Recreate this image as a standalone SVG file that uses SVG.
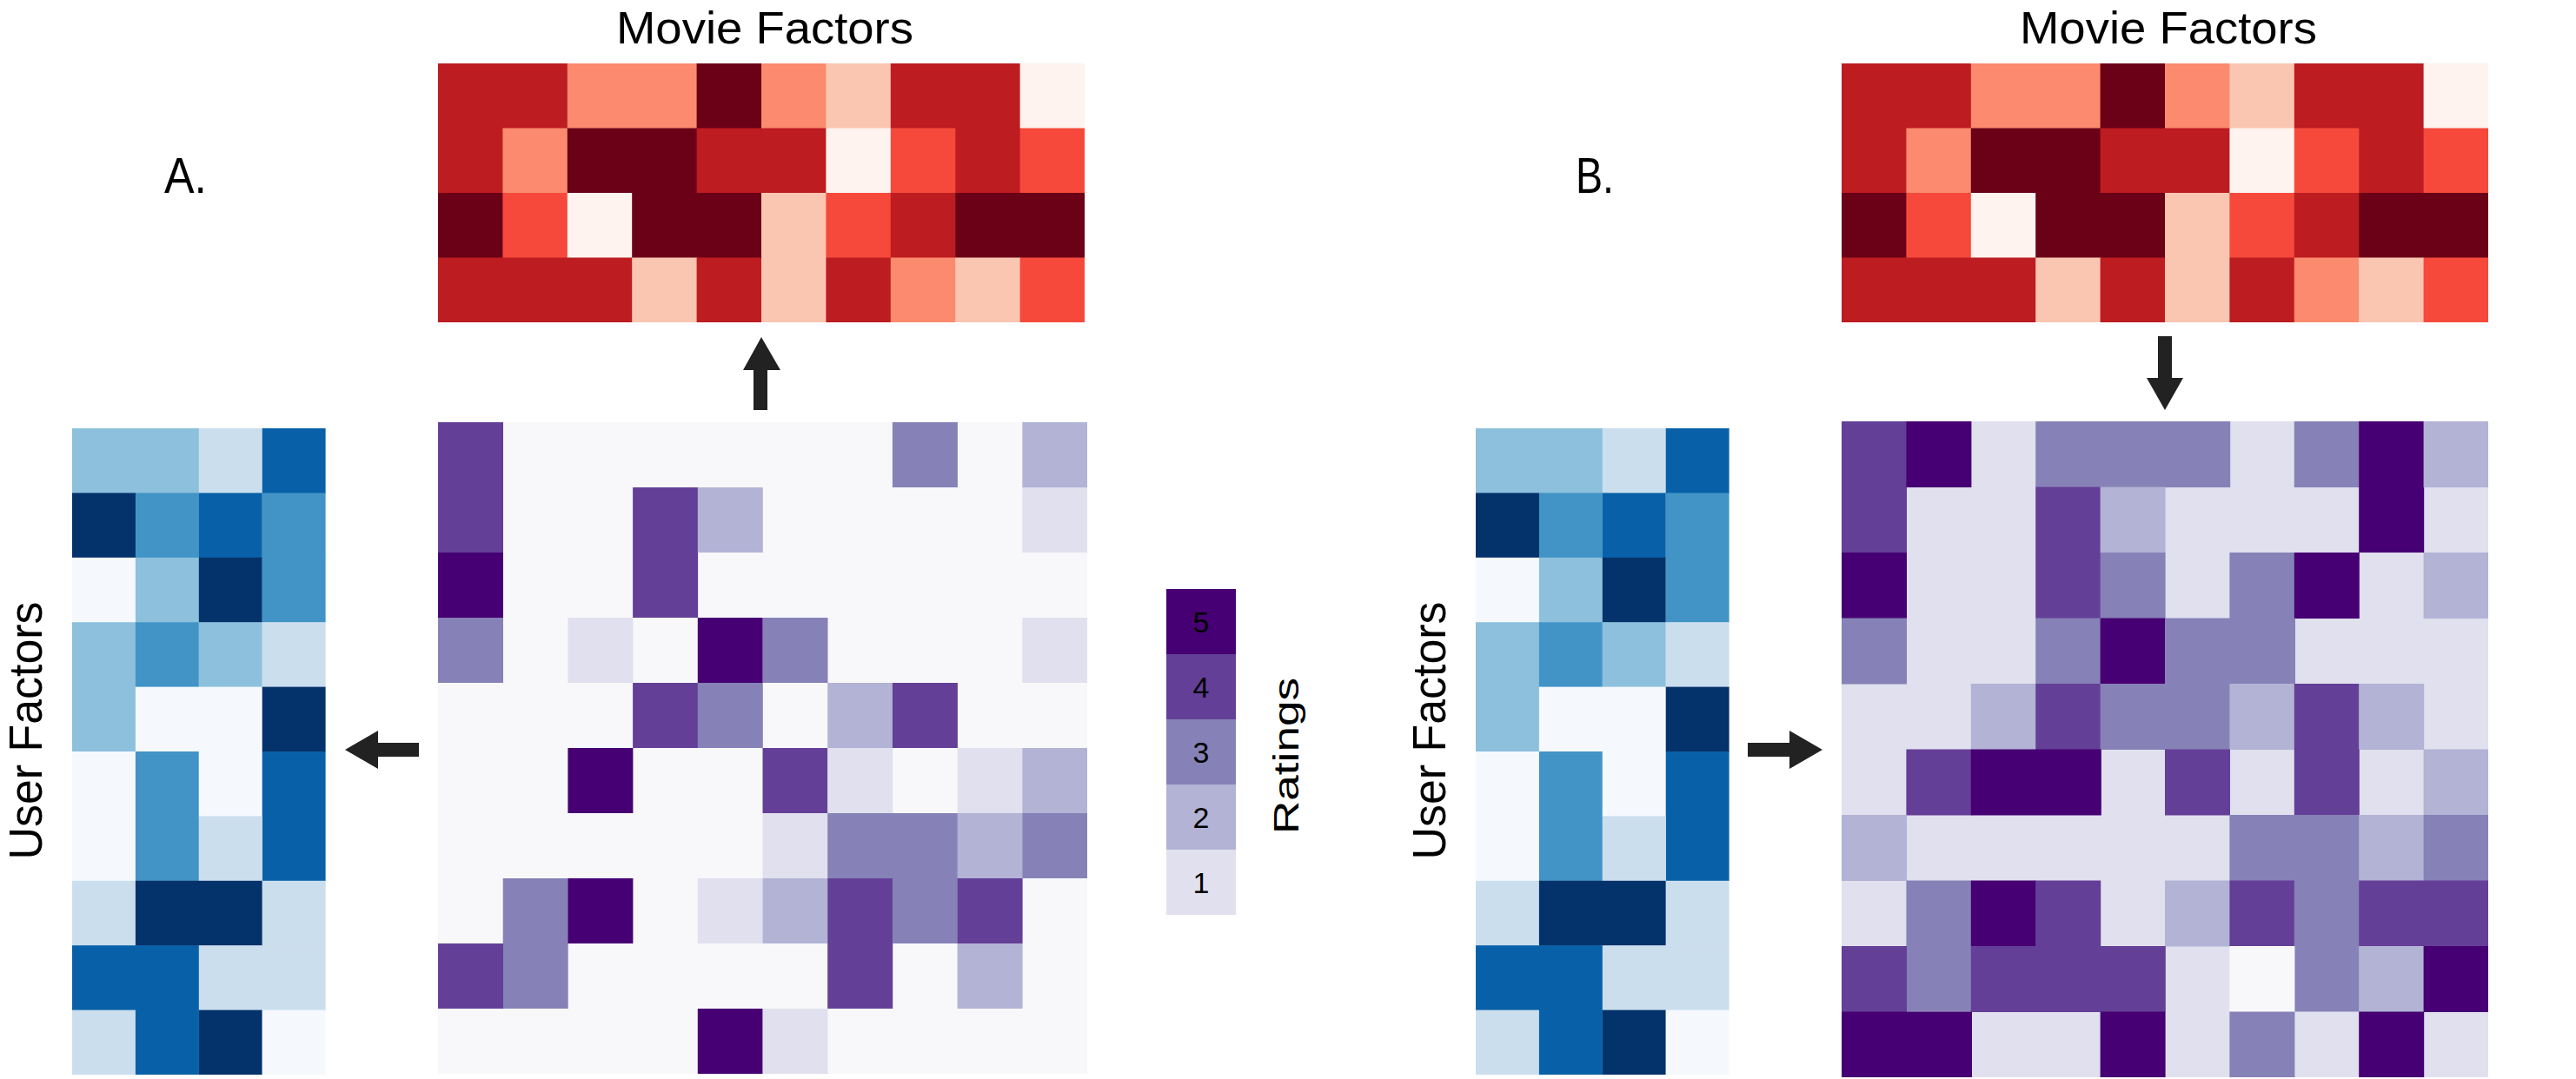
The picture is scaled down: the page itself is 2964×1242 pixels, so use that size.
<svg xmlns="http://www.w3.org/2000/svg" xmlns:xlink="http://www.w3.org/1999/xlink" width="2964" height="1242" viewBox="0 0 2964 1242">
<style>
rect{stroke:none}
.r0{fill:#fef3ee}.r1{fill:#fbc6b1}.r2{fill:#fb8a6e}.r3{fill:#f6493c}.r4{fill:#bd1c21}.r5{fill:#6a0116}
.b0{fill:#f5f9fe}.b1{fill:#cbdeee}.b2{fill:#8cc0dd}.b3{fill:#4294c6}.b4{fill:#0861a8}.b5{fill:#04326a}
.p0{fill:#f8f8fb}.p1{fill:#e0e0ee}.p2{fill:#b2b3d5}.p3{fill:#8682b7}.p4{fill:#643f97}.p5{fill:#460073}
.t{font-family:"Liberation Sans",Arial,sans-serif;fill:#000}
.ar{fill:#222}
</style>
<g id="labelA"><text class="t" x="189" y="222" font-size="58" textLength="49" lengthAdjust="spacingAndGlyphs">A.</text></g>
<g id="labelB"><text class="t" x="1813" y="222" font-size="58" textLength="44" lengthAdjust="spacingAndGlyphs">B.</text></g>
<g id="movieA">
<text class="t" x="880" y="50" font-size="52" text-anchor="middle" textLength="342" lengthAdjust="spacingAndGlyphs">Movie Factors</text>
<g id="movieGrid" transform="translate(504,73)">
<rect class="r4" x="0" y="0" width="150" height="75"/><rect class="r2" x="148.8" y="0" width="150" height="75"/><rect class="r5" x="297.6" y="0" width="75" height="75"/><rect class="r2" x="372" y="0" width="75" height="75"/><rect class="r1" x="446.4" y="0" width="75" height="75"/><rect class="r4" x="520.8" y="0" width="150" height="75"/><rect class="r0" x="669.6" y="0" width="74.4" height="75"/>
<rect class="r4" x="0" y="74.5" width="75" height="75"/><rect class="r2" x="74.4" y="74.5" width="75" height="75"/><rect class="r5" x="148.8" y="74.5" width="150" height="75"/><rect class="r4" x="297.6" y="74.5" width="150" height="75"/><rect class="r0" x="446.4" y="74.5" width="75" height="75"/><rect class="r3" x="520.8" y="74.5" width="75" height="75"/><rect class="r4" x="595.2" y="74.5" width="75" height="75"/><rect class="r3" x="669.6" y="74.5" width="74.4" height="75"/>
<rect class="r5" x="0" y="149" width="75" height="75"/><rect class="r3" x="74.4" y="149" width="75" height="75"/><rect class="r0" x="148.8" y="149" width="75" height="75"/><rect class="r5" x="223.2" y="149" width="150" height="75"/><rect class="r1" x="372" y="149" width="75" height="75"/><rect class="r3" x="446.4" y="149" width="75" height="75"/><rect class="r4" x="520.8" y="149" width="75" height="75"/><rect class="r5" x="595.2" y="149" width="148.8" height="75"/>
<rect class="r4" x="0" y="223.5" width="224" height="74.5"/><rect class="r1" x="223.2" y="223.5" width="75" height="74.5"/><rect class="r4" x="297.6" y="223.5" width="75" height="74.5"/><rect class="r1" x="372" y="223.5" width="75" height="74.5"/><rect class="r4" x="446.4" y="223.5" width="75" height="74.5"/><rect class="r2" x="520.8" y="223.5" width="75" height="74.5"/><rect class="r1" x="595.2" y="223.5" width="75" height="74.5"/><rect class="r3" x="669.6" y="223.5" width="74.4" height="74.5"/>
</g>
</g>
<g id="movieB"><use xlink:href="#movieA" x="1615" y="0"/></g>
<g id="userA">
<text class="t" transform="translate(48,841) rotate(-90)" font-size="54" text-anchor="middle" textLength="297" lengthAdjust="spacingAndGlyphs">User Factors</text>
<g transform="translate(83,493)">
<rect class="b2" x="0" y="0" width="146" height="75"/><rect class="b1" x="145.8" y="0" width="73" height="75"/><rect class="b4" x="218.7" y="0" width="72.9" height="75"/>
<rect class="b5" x="0" y="74.4" width="73" height="75"/><rect class="b3" x="72.9" y="74.4" width="73" height="75"/><rect class="b4" x="145.8" y="74.4" width="73" height="75"/><rect class="b3" x="218.7" y="74.4" width="72.9" height="75"/>
<rect class="b0" x="0" y="148.8" width="73" height="75"/><rect class="b2" x="72.9" y="148.8" width="73" height="75"/><rect class="b5" x="145.8" y="148.8" width="73" height="75"/><rect class="b3" x="218.7" y="148.8" width="72.9" height="75"/>
<rect class="b2" x="0" y="223.2" width="73" height="75"/><rect class="b3" x="72.9" y="223.2" width="73" height="75"/><rect class="b2" x="145.8" y="223.2" width="73" height="75"/><rect class="b1" x="218.7" y="223.2" width="72.9" height="75"/>
<rect class="b2" x="0" y="297.6" width="73" height="75"/><rect class="b0" x="72.9" y="297.6" width="146" height="75"/><rect class="b5" x="218.7" y="297.6" width="72.9" height="75"/>
<rect class="b0" x="0" y="372" width="73" height="149"/><rect class="b3" x="72.9" y="372" width="73" height="149"/><rect class="b0" x="145.8" y="372" width="73" height="75"/><rect class="b4" x="218.7" y="372" width="72.9" height="149"/>
<rect class="b1" x="145.8" y="446.4" width="73" height="75"/>
<rect class="b1" x="0" y="520.8" width="73" height="75"/><rect class="b5" x="72.9" y="520.8" width="146" height="75"/><rect class="b1" x="218.7" y="520.8" width="72.9" height="75"/>
<rect class="b4" x="0" y="595.2" width="146" height="75"/><rect class="b1" x="145.8" y="595.2" width="145.8" height="75"/>
<rect class="b1" x="0" y="669.6" width="73" height="74.4"/><rect class="b4" x="72.9" y="669.6" width="73" height="74.4"/><rect class="b5" x="145.8" y="669.6" width="73" height="74.4"/><rect class="b0" x="218.7" y="669.6" width="72.9" height="74.4"/>
</g>
</g>
<g id="userB"><use xlink:href="#userA" x="1615" y="0"/></g>
<g id="ratingsA" transform="translate(504,486)">
<rect class="p0" x="0" y="0" width="747" height="750"/>
<rect class="p4" x="0" y="0" width="75" height="150"/><rect class="p3" x="522.9" y="0" width="75" height="75"/><rect class="p2" x="672.3" y="0" width="74.7" height="75"/>
<rect class="p4" x="224.1" y="75" width="75" height="75"/><rect class="p2" x="298.8" y="75" width="75" height="75"/><rect class="p1" x="672.3" y="75" width="74.7" height="75"/>
<rect class="p5" x="0" y="150" width="75" height="75"/><rect class="p4" x="224.1" y="150" width="75" height="75"/>
<rect class="p3" x="0" y="225" width="75" height="75"/><rect class="p1" x="149.4" y="225" width="75" height="75"/><rect class="p5" x="298.8" y="225" width="75" height="75"/><rect class="p3" x="373.5" y="225" width="75" height="75"/><rect class="p1" x="672.3" y="225" width="74.7" height="75"/>
<rect class="p4" x="224.1" y="300" width="75" height="75"/><rect class="p3" x="298.8" y="300" width="75" height="75"/><rect class="p2" x="448.2" y="300" width="75" height="75"/><rect class="p4" x="522.9" y="300" width="75" height="75"/>
<rect class="p5" x="149.4" y="375" width="75" height="75"/><rect class="p4" x="373.5" y="375" width="75" height="75"/><rect class="p1" x="448.2" y="375" width="75" height="75"/><rect class="p1" x="597.6" y="375" width="75" height="75"/><rect class="p2" x="672.3" y="375" width="74.7" height="75"/>
<rect class="p1" x="373.5" y="450" width="75" height="75"/><rect class="p3" x="448.2" y="450" width="150" height="75"/><rect class="p2" x="597.6" y="450" width="75" height="75"/><rect class="p3" x="672.3" y="450" width="74.7" height="75"/>
<rect class="p3" x="74.7" y="525" width="75" height="150"/><rect class="p5" x="149.4" y="525" width="75" height="75"/><rect class="p1" x="298.8" y="525" width="75" height="75"/><rect class="p2" x="373.5" y="525" width="75" height="75"/><rect class="p4" x="448.2" y="525" width="75" height="150"/><rect class="p3" x="522.9" y="525" width="75" height="75"/><rect class="p4" x="597.6" y="525" width="75" height="75"/>
<rect class="p4" x="0" y="600" width="75" height="75"/><rect class="p2" x="597.6" y="600" width="75" height="75"/>
<rect class="p5" x="298.8" y="675" width="75" height="75"/><rect class="p1" x="373.5" y="675" width="75" height="75"/>
</g>
<g id="colorbar">
<rect class="p5" x="1342" y="678" width="80" height="76"/><rect class="p4" x="1342" y="753" width="80" height="76"/><rect class="p3" x="1342" y="828" width="80" height="76"/><rect class="p2" x="1342" y="903" width="80" height="76"/><rect class="p1" x="1342" y="978" width="80" height="75"/>
<g class="t" font-size="34" text-anchor="middle">
<text x="1382" y="728">5</text><text x="1382" y="803">4</text><text x="1382" y="878">3</text><text x="1382" y="953">2</text><text x="1382" y="1028">1</text>
</g>
<text class="t" transform="translate(1494,870) rotate(-90)" font-size="40" text-anchor="middle" textLength="180" lengthAdjust="spacingAndGlyphs">Ratings</text>
</g>
<g id="predictedB" transform="translate(2119,485)">
<rect class="p1" x="0" y="0" width="744" height="755"/>
<rect class="p4" x="0" y="0" width="75" height="151"/><rect class="p5" x="74.4" y="0" width="75" height="76"/><rect class="p3" x="223.2" y="0" width="224" height="76"/><rect class="p3" x="520.8" y="0" width="75" height="76"/><rect class="p5" x="595.2" y="0" width="75" height="151"/><rect class="p2" x="669.6" y="0" width="74.4" height="76"/>
<rect class="p4" x="223.2" y="75.5" width="75" height="76"/><rect class="p2" x="297.6" y="75.5" width="75" height="76"/>
<rect class="p5" x="0" y="151" width="75" height="76"/><rect class="p4" x="223.2" y="151" width="75" height="76"/><rect class="p3" x="297.6" y="151" width="75" height="76"/><rect class="p3" x="446.4" y="151" width="75" height="76"/><rect class="p5" x="520.8" y="151" width="75" height="76"/><rect class="p2" x="669.6" y="151" width="74.4" height="76"/>
<rect class="p3" x="0" y="226.5" width="75" height="76"/><rect class="p3" x="223.2" y="226.5" width="75" height="76"/><rect class="p5" x="297.6" y="226.5" width="75" height="76"/><rect class="p3" x="372" y="226.5" width="150" height="76"/>
<rect class="p2" x="148.8" y="302" width="75" height="76"/><rect class="p4" x="223.2" y="302" width="75" height="76"/><rect class="p3" x="297.6" y="302" width="150" height="76"/><rect class="p2" x="446.4" y="302" width="75" height="76"/><rect class="p4" x="520.8" y="302" width="75" height="76"/><rect class="p2" x="595.2" y="302" width="75" height="76"/>
<rect class="p4" x="74.4" y="377.5" width="75" height="76"/><rect class="p5" x="148.8" y="377.5" width="150" height="76"/><rect class="p4" x="372" y="377.5" width="75" height="76"/><rect class="p4" x="520.8" y="377.5" width="75" height="76"/><rect class="p2" x="669.6" y="377.5" width="74.4" height="76"/>
<rect class="p2" x="0" y="453" width="75" height="76"/><rect class="p3" x="446.4" y="453" width="150" height="76"/><rect class="p2" x="595.2" y="453" width="75" height="76"/><rect class="p3" x="669.6" y="453" width="74.4" height="76"/>
<rect class="p3" x="74.4" y="528.5" width="75" height="151"/><rect class="p5" x="148.8" y="528.5" width="75" height="76"/><rect class="p4" x="223.2" y="528.5" width="75" height="76"/><rect class="p2" x="372" y="528.5" width="75" height="76"/><rect class="p4" x="446.4" y="528.5" width="75" height="76"/><rect class="p3" x="520.8" y="528.5" width="75" height="151"/><rect class="p4" x="595.2" y="528.5" width="148.8" height="76"/>
<rect class="p4" x="0" y="604" width="75" height="76"/><rect class="p4" x="148.8" y="604" width="224" height="76"/><rect class="p0" x="446.4" y="604" width="75" height="76"/><rect class="p2" x="595.2" y="604" width="75" height="76"/><rect class="p5" x="669.6" y="604" width="74.4" height="76"/>
<rect class="p5" x="0" y="679.5" width="150" height="75.5"/><rect class="p5" x="297.6" y="679.5" width="75" height="75.5"/><rect class="p3" x="446.4" y="679.5" width="75" height="75.5"/><rect class="p5" x="595.2" y="679.5" width="75" height="75.5"/>
</g>
<g id="connectors">
<polygon class="ar" points="867,472 883,472 883,426 898,426 876,388 855,426 867,426"/>
<polygon class="ar" points="482,855 482,871 435,871 435,885 397,863 435,841 435,855"/>
<polygon class="ar" points="2483,387 2499,387 2499,435 2512,435 2491,472 2470,435 2483,435"/>
<polygon class="ar" points="2011,855 2011,871 2059,871 2059,885 2097,863 2059,841 2059,855"/>
</g>
</svg>
